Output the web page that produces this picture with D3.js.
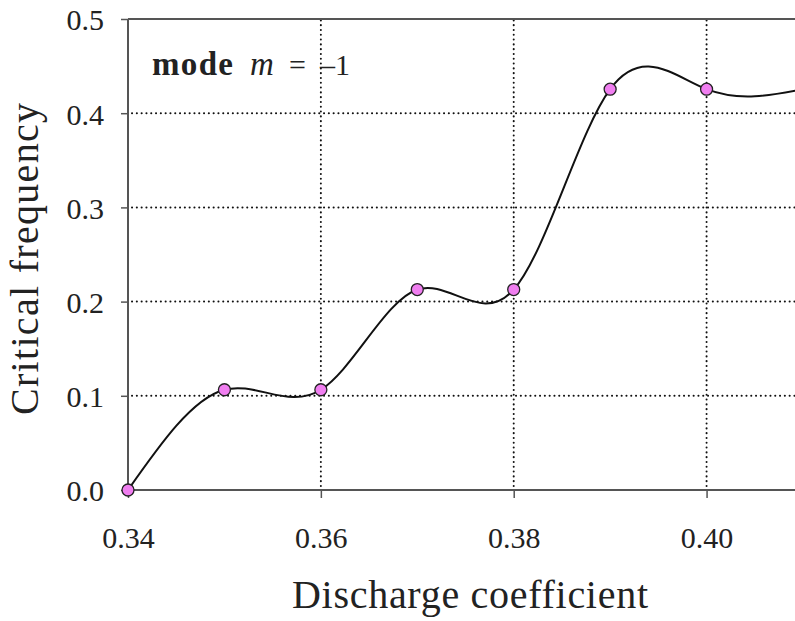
<!DOCTYPE html>
<html>
<head>
<meta charset="utf-8">
<title>critical frequency</title>
<script src="https://d3js.org/d3.v7.min.js"></script>
<style>
  body { margin: 0; background: #fff; }
  svg text { font-family: "Liberation Serif", serif; fill: #222; }
</style>
</head>
<body>
<svg width="795" height="621" id="mainsvg"></svg>
<script>
// data
const coef = [0.34, 0.35, 0.36, 0.37, 0.38, 0.39, 0.40, 0.41];
const freq = [0.0, 0.1064, 0.1064, 0.2128, 0.2128, 0.4255, 0.4255, 0.4255];
const xTicks = [0.34, 0.36, 0.38, 0.40];
const yTicks = [0.0, 0.1, 0.2, 0.3, 0.4, 0.5];

const svg = d3.select('#mainsvg');
const margin = {top: 19, left: 128, bottom: 131};
const height = +svg.attr('height');

const x = d3.scaleLinear().domain([0.34, 0.41]).range([margin.left, 803]);
const y = d3.scaleLinear().domain([0, 0.5]).range([height - margin.bottom, margin.top]);

const data = coef.map((c, i) => ({c: c, f: freq[i]}));

// dotted grid
const grid = svg.append('g').attr('stroke', '#111').attr('stroke-width', 2)
  .attr('stroke-dasharray', '0.1,4.7').attr('stroke-linecap', 'round');
grid.selectAll('.hg').data(yTicks.filter(d => d > 0 && d < 0.5)).enter().append('line')
  .attr('x1', x(0.34) + 4).attr('x2', 795)
  .attr('y1', d => y(d)).attr('y2', d => y(d));
grid.selectAll('.vg').data(xTicks.filter(d => d > 0.34)).enter().append('line')
  .attr('x1', d => x(d)).attr('x2', d => x(d))
  .attr('y1', y(0) - 4).attr('y2', y(0.5));

// axes
const xaxis = d3.axisBottom(x).tickValues(xTicks).tickFormat(d3.format('.2f'))
  .tickSize(8).tickPadding(29);
const yaxis = d3.axisLeft(y).tickValues(yTicks).tickFormat(d3.format('.1f'))
  .tickSize(7).tickPadding(17);

const gx = svg.append('g').attr('transform', `translate(0,${y(0)})`).call(xaxis);
const gy = svg.append('g').attr('transform', `translate(${x(0.34)},0)`).call(yaxis);
[gx, gy].forEach(g => {
  g.attr('font-family', null).attr('font-size', null);
  g.select('.domain').remove();
  g.selectAll('line').attr('stroke', '#555').attr('stroke-width', 1.5);
  g.selectAll('text').attr('fill', '#222')
    .style('font-family', '"Liberation Serif", serif').style('font-size', '30px');
});
gy.selectAll('text').attr('dy', '0.36em');

// frame (top, left, bottom)
const frame = svg.append('g').attr('stroke', '#555').attr('stroke-width', 2);
frame.append('line').attr('x1', x(0.34)).attr('x2', 795).attr('y1', y(0.5)).attr('y2', y(0.5));
frame.append('line').attr('x1', x(0.34)).attr('x2', 795).attr('y1', y(0)).attr('y2', y(0));
frame.append('line').attr('x1', x(0.34)).attr('x2', x(0.34)).attr('y1', y(0)).attr('y2', y(0.5));

// spline curve
const line = d3.line().x(d => x(d.c)).y(d => y(d.f)).curve(d3.curveNatural);
svg.append('path').datum(data)
  .attr('d', line).attr('fill', 'none')
  .attr('stroke', '#111').attr('stroke-width', 2);

// markers
svg.selectAll('.pt').data(data).enter().append('circle')
  .attr('class', 'pt')
  .attr('cx', d => x(d.c)).attr('cy', d => y(d.f)).attr('r', 6)
  .attr('fill', '#f07ef0').attr('stroke', '#222').attr('stroke-width', 1.3);

// labels
svg.append('text').attr('x', 470).attr('y', 608).attr('text-anchor', 'middle')
  .attr('font-size', 40).attr('textLength', 356).attr('lengthAdjust', 'spacing')
  .text('Discharge coefficient');
svg.append('text').attr('transform', 'translate(38,259) rotate(-90)')
  .attr('text-anchor', 'middle').attr('font-size', 40)
  .attr('textLength', 312).attr('lengthAdjust', 'spacing')
  .text('Critical frequency');

const note = svg.append('text').attr('y', 75).attr('font-size', 30);
note.append('tspan').attr('x', 152).attr('font-weight', 'bold').attr('font-size', 33)
  .attr('textLength', 81).attr('lengthAdjust', 'spacing').text('mode');
note.append('tspan').attr('x', 250).attr('font-style', 'italic').attr('font-size', 33).text('m');
note.append('tspan').attr('x', 289).text('=');
note.append('tspan').attr('x', 320).text('–1');
</script>
</body>
</html>
